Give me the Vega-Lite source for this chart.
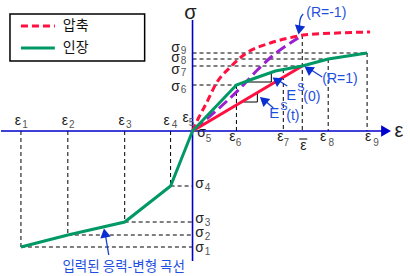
{
"$schema": "https://vega.github.io/schema/vega-lite/v6.json",
"width": 410, "height": 276,
"autosize": {"type": "fit", "contains": "padding"},
"padding": 0,
"background": "white",
"config": {"view": {"stroke": null}},
"datasets": {
"curves": [
{"c":"tension","x":-172,"y":-116},{"c":"tension","x":-125,"y":-104},{"c":"tension","x":-68,"y":-91},{"c":"tension","x":-22,"y":-55},{"c":"tension","x":0,"y":0},{"c":"tension","x":44,"y":46},{"c":"tension","x":63,"y":53},{"c":"tension","x":83,"y":60},{"c":"tension","x":110,"y":65},{"c":"tension","x":136,"y":72},{"c":"tension","x":175,"y":78},
{"c":"comp","x":0,"y":0},{"c":"comp","x":6,"y":13},{"c":"comp","x":14,"y":28},{"c":"comp","x":24,"y":48},{"c":"comp","x":38,"y":64},{"c":"comp","x":54,"y":78},{"c":"comp","x":78,"y":88},{"c":"comp","x":101,"y":94},{"c":"comp","x":111,"y":96},{"c":"comp","x":145,"y":98},{"c":"comp","x":178,"y":99},
{"c":"secant","x":0,"y":0},{"c":"secant","x":110,"y":65},
{"c":"purple","x":2,"y":2},{"c":"purple","x":28,"y":24},{"c":"purple","x":48,"y":43},{"c":"purple","x":65,"y":61},{"c":"purple","x":80,"y":75},{"c":"purple","x":98,"y":88},{"c":"purple","x":106,"y":93},
{"c":"legComp","x":-172,"y":105},{"c":"legComp","x":-138,"y":105},
{"c":"legTens","x":-172,"y":83},{"c":"legTens","x":-138,"y":83}
],
"guides": [
{"x":-172,"y":0,"x2":-172,"y2":-116},{"x":-125,"y":0,"x2":-125,"y2":-104},{"x":-68,"y":0,"x2":-68,"y2":-91},{"x":-22,"y":0,"x2":-22,"y2":-55},
{"x":44,"y":46,"x2":44,"y2":0},{"x":91,"y":62,"x2":91,"y2":0},{"x":110,"y":96,"x2":110,"y2":0},{"x":136,"y":72,"x2":136,"y2":0},{"x":175,"y":78,"x2":175,"y2":0},
{"x":-172,"y":-116,"x2":0,"y2":-116},{"x":-125,"y":-104,"x2":0,"y2":-104},{"x":-68,"y":-91,"x2":0,"y2":-91},{"x":-22,"y":-55,"x2":0,"y2":-55},
{"x":0,"y":46,"x2":44,"y2":46},{"x":0,"y":65,"x2":110,"y2":65},{"x":0,"y":72,"x2":136,"y2":72},{"x":0,"y":78,"x2":175,"y2":78}
],
"ticks": [
{"x":54,"y":49,"x2":79,"y2":49},{"x":79,"y":58,"x2":79,"y2":49},
{"x":51,"y":29,"x2":65,"y2":29},{"x":65,"y":38,"x2":65,"y2":29},
{"x":107,"y":-8,"x2":115,"y2":-8}
],
"axes": [
{"x":-192,"y":0,"x2":190,"y2":0},{"x":0,"y":-130,"x2":0,"y2":111}
],
"box": [{"x":-183,"x2":-48,"y":117,"y2":70}],
"arrows": [
{"a":1,"i":0,"x":111,"y":117},{"a":1,"i":1,"x":108,"y":112},{"a":1,"i":2,"x":107,"y":104},
{"a":2,"i":0,"x":130,"y":54},{"a":2,"i":1,"x":119,"y":61},
{"a":3,"i":0,"x":95,"y":45},{"a":3,"i":1,"x":87,"y":50},
{"a":4,"i":0,"x":81,"y":23},{"a":4,"i":1,"x":73,"y":30},
{"a":5,"i":0,"x":-84,"y":-124},{"a":5,"i":1,"x":-87,"y":-106}
],
"heads": [
{"a":1,"x":107,"y":101},{"a":2,"x":116,"y":62},{"a":3,"x":84,"y":51},{"a":4,"x":71,"y":31},{"a":5,"x":-88,"y":-102}
],
"labels": [
{"g":"sym","x":-175,"y":10,"t":"ε"},{"g":"sym","x":-128,"y":10,"t":"ε"},{"g":"sym","x":-71,"y":10,"t":"ε"},{"g":"sym","x":-26,"y":10,"t":"ε"},{"g":"sym","x":-7,"y":13,"t":"ε"},
{"g":"sym","x":40,"y":-6,"t":"ε"},{"g":"sym","x":88,"y":-6,"t":"ε"},{"g":"sym","x":111,"y":-15,"t":"ε"},{"g":"sym","x":131,"y":-6,"t":"ε"},{"g":"sym","x":176,"y":-6,"t":"ε"},
{"g":"sym","x":-17,"y":83,"t":"σ"},{"g":"sym","x":-17,"y":73,"t":"σ"},{"g":"sym","x":-17,"y":61,"t":"σ"},{"g":"sym","x":-17,"y":44,"t":"σ"},{"g":"sym","x":9,"y":-2,"t":"σ"},
{"g":"sym","x":7,"y":-53,"t":"σ"},{"g":"sym","x":7,"y":-88,"t":"σ"},{"g":"sym","x":7,"y":-102,"t":"σ"},{"g":"sym","x":7,"y":-117,"t":"σ"},
{"g":"sub","x":-168,"y":6,"t":"1"},{"g":"sub","x":-121,"y":6,"t":"2"},{"g":"sub","x":-64,"y":6,"t":"3"},{"g":"sub","x":-18,"y":6,"t":"4"},{"g":"sub","x":-1,"y":8,"t":"5"},
{"g":"sub","x":46,"y":-12,"t":"6"},{"g":"sub","x":94,"y":-12,"t":"7"},{"g":"sub","x":139,"y":-12,"t":"8"},{"g":"sub","x":184,"y":-12,"t":"9"},
{"g":"sub","x":-9,"y":80,"t":"9"},{"g":"sub","x":-9,"y":70,"t":"8"},{"g":"sub","x":-9,"y":58,"t":"7"},{"g":"sub","x":-9,"y":41,"t":"6"},{"g":"sub","x":16,"y":-8,"t":"5"},
{"g":"sub","x":15,"y":-57,"t":"4"},{"g":"sub","x":15,"y":-92,"t":"3"},{"g":"sub","x":15,"y":-106,"t":"2"},{"g":"sub","x":15,"y":-121,"t":"1"},
{"g":"big","x":207,"y":0,"t":"ε"},{"g":"big","x":-2,"y":118,"t":"σ"},
{"g":"leg","x":-130,"y":105,"t":"압축"},{"g":"leg","x":-130,"y":83,"t":"인장"},
{"g":"blue","x":114,"y":118,"t":"(R=-1)"},{"g":"blue","x":130,"y":52,"t":"(R=1)"},{"g":"blueE","x":94,"y":36,"t":"E"},{"g":"blue","x":111,"y":34,"t":"(0)"},{"g":"blueE","x":77,"y":18,"t":"E"},{"g":"blue","x":94,"y":15,"t":"(t)"},
{"g":"blueS","x":105,"y":43,"t":"S"},{"g":"blueS","x":88,"y":24,"t":"S"},
{"g":"kor","x":-69,"y":-136,"t":"입력된 응력-변형 곡선"}
]
},
"encoding": {
"x": {"field":"x","type":"quantitative","scale":{"domain":[-192,218],"nice":false,"zero":false},"axis":null},
"y": {"field":"y","type":"quantitative","scale":{"domain":[-145,131],"nice":false,"zero":false},"axis":null}
},
"layer": [
{"data":{"name":"box"},"mark":{"type":"rect","fill":"white","stroke":"black","strokeWidth":1.5},"encoding":{"x2":{"field":"x2"},"y2":{"field":"y2"}}},
{"data":{"name":"guides"},"mark":{"type":"rule","color":"black","strokeWidth":1,"strokeDash":[4,3]},"encoding":{"x2":{"field":"x2"},"y2":{"field":"y2"}}},
{"data":{"name":"ticks"},"mark":{"type":"rule","color":"black","strokeWidth":1},"encoding":{"x2":{"field":"x2"},"y2":{"field":"y2"}}},
{"data":{"name":"axes"},"mark":{"type":"rule","color":"#0000cc","strokeWidth":1.6},"encoding":{"x2":{"field":"x2"},"y2":{"field":"y2"}}},
{"data":{"name":"curves"},"transform":[{"filter":"datum.c==='purple'"}],"mark":{"type":"line","color":"#9a1fd0","strokeWidth":3,"strokeDash":[11,5],"interpolate":"monotone"},"encoding":{}},
{"data":{"name":"curves"},"transform":[{"filter":"datum.c==='comp' || datum.c==='legComp'"}],"mark":{"type":"line","color":"#ff1040","strokeWidth":3,"strokeDash":[7,4],"interpolate":"monotone"},"encoding":{"detail":{"field":"c"}}},
{"data":{"name":"curves"},"transform":[{"filter":"datum.c==='secant'"}],"mark":{"type":"line","color":"#ff1040","strokeWidth":3},"encoding":{}},
{"data":{"name":"curves"},"transform":[{"filter":"datum.c==='tension' || datum.c==='legTens'"}],"mark":{"type":"line","color":"#009966","strokeWidth":3},"encoding":{"detail":{"field":"c"}}},
{"data":{"name":"arrows"},"mark":{"type":"line","color":"#1040d0","strokeWidth":1.3,"interpolate":"monotone"},"encoding":{"detail":{"field":"a"},"order":{"field":"i"}}},
{"data":{"name":"heads"},"transform":[{"filter":"datum.a===1"}],"mark":{"type":"point","shape":"triangle-up","angle":190,"filled":true,"color":"#0a2fd0","size":110,"opacity":1},"encoding":{}},
{"data":{"name":"heads"},"transform":[{"filter":"datum.a===2"}],"mark":{"type":"point","shape":"triangle-up","angle":305,"filled":true,"color":"#0a2fd0","size":110,"opacity":1},"encoding":{}},
{"data":{"name":"heads"},"transform":[{"filter":"datum.a===3"}],"mark":{"type":"point","shape":"triangle-up","angle":305,"filled":true,"color":"#0a2fd0","size":110,"opacity":1},"encoding":{}},
{"data":{"name":"heads"},"transform":[{"filter":"datum.a===4"}],"mark":{"type":"point","shape":"triangle-up","angle":310,"filled":true,"color":"#0a2fd0","size":110,"opacity":1},"encoding":{}},
{"data":{"name":"heads"},"transform":[{"filter":"datum.a===5"}],"mark":{"type":"point","shape":"triangle-up","angle":350,"filled":true,"color":"#0a2fd0","size":110,"opacity":1},"encoding":{}},
{"data":{"values":[{"x":194,"y":0}]},"mark":{"type":"point","shape":"triangle-right","filled":true,"color":"#0000cc","size":130,"opacity":1},"encoding":{}},
{"data":{"name":"labels"},"transform":[{"filter":"datum.g==='sym'"}],"mark":{"type":"text","font":"Liberation Sans","fontSize":14,"color":"#222","align":"center","baseline":"middle"},"encoding":{"text":{"field":"t"}}},
{"data":{"name":"labels"},"transform":[{"filter":"datum.g==='sub'"}],"mark":{"type":"text","font":"Liberation Sans","fontSize":10,"color":"#555","align":"center","baseline":"middle"},"encoding":{"text":{"field":"t"}}},
{"data":{"name":"labels"},"transform":[{"filter":"datum.g==='big'"}],"mark":{"type":"text","font":"Liberation Sans","fontSize":20,"color":"#222","align":"center","baseline":"middle"},"encoding":{"text":{"field":"t"}}},
{"data":{"name":"labels"},"transform":[{"filter":"datum.g==='leg'"}],"mark":{"type":"text","font":"Noto Sans CJK KR","fontSize":14,"color":"#111","align":"left","baseline":"middle"},"encoding":{"text":{"field":"t"}}},
{"data":{"name":"labels"},"transform":[{"filter":"datum.g==='blue'"}],"mark":{"type":"text","font":"Liberation Sans","fontSize":14,"color":"#1f4fe0","align":"left","baseline":"middle"},"encoding":{"text":{"field":"t"}}},
{"data":{"name":"labels"},"transform":[{"filter":"datum.g==='blueE'"}],"mark":{"type":"text","font":"Liberation Sans","fontSize":15,"color":"#1f4fe0","align":"left","baseline":"middle"},"encoding":{"text":{"field":"t"}}},
{"data":{"name":"labels"},"transform":[{"filter":"datum.g==='blueS'"}],"mark":{"type":"text","font":"Liberation Sans","fontSize":11,"color":"#1f4fe0","align":"left","baseline":"middle"},"encoding":{"text":{"field":"t"}}},
{"data":{"name":"labels"},"transform":[{"filter":"datum.g==='kor'"}],"mark":{"type":"text","font":"Noto Sans CJK KR","fontSize":13.5,"color":"#1f4fe0","align":"center","baseline":"middle"},"encoding":{"text":{"field":"t"}}}
]
}
